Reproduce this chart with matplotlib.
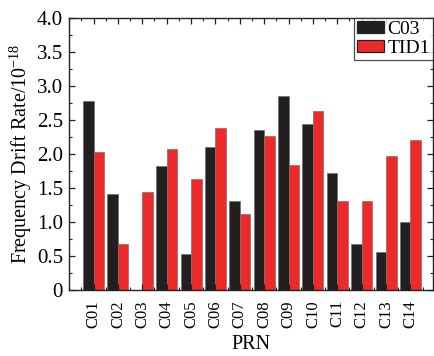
import numpy as np
import matplotlib
matplotlib.use("Agg")
import matplotlib.pyplot as plt
from matplotlib.ticker import MultipleLocator

# data
prn = ["C01", "C02", "C03", "C04", "C05", "C06", "C07",
       "C08", "C09", "C10", "C11", "C12", "C13", "C14"]
c03 = [2.78, 1.42, 0.0, 1.83, 0.53, 2.10, 1.32,
       2.36, 2.85, 2.44, 1.72, 0.68, 0.57, 1.00]
tid1 = [2.03, 0.68, 1.44, 2.08, 1.63, 2.38, 1.12,
        2.26, 1.84, 2.63, 1.31, 1.32, 1.98, 2.21]

plt.rcParams['font.family'] = ['Liberation Serif', 'DejaVu Serif']
plt.rcParams['mathtext.fontset'] = 'custom'
plt.rcParams['mathtext.rm'] = 'Liberation Serif'
plt.rcParams['mathtext.it'] = 'Liberation Serif:italic'

fig = plt.figure(figsize=(4.35, 3.56), dpi=100)
ax = fig.add_axes([0.159, 0.184, 0.836, 0.766])

x = np.arange(1, len(prn) + 1)
w = 0.43
ax.bar(x - w / 2, c03, width=w, color="#231f20", edgecolor="#6e6e6e",
       linewidth=0.5, label="C03")
ax.bar(x + w / 2, tid1, width=w, color="#ec2a2a", edgecolor="#8a6a6a",
       linewidth=0.5, label="TID1")

ax.set_xlim(0, 14.92)
ax.set_ylim(0, 4.0)
ax.set_xticks(x)
ax.set_xticklabels(prn, rotation=90, fontsize=12)
ax.xaxis.set_minor_locator(MultipleLocator(0.5))
ax.yaxis.set_minor_locator(MultipleLocator(0.25))
ylabs = ["0"] + ["%.1f" % v for v in np.arange(0.5, 4.01, 0.5)]
ax.set_yticks(np.arange(0, 4.01, 0.5))
ax.set_yticklabels(ylabs, fontsize=15)

ax.tick_params(which='both', direction='in', top=True, right=True, color="#222222")
ax.tick_params(which='major', length=4, width=0.9)
ax.tick_params(which='minor', length=2.5, width=0.8)
ax.tick_params(axis='x', pad=7)
ax.tick_params(axis='y', pad=4.5)
for s in ax.spines.values():
    s.set_linewidth(1.0)
    s.set_color("#222222")

ax.set_ylabel("Frequency Drift Rate/10$^{-18}$", fontsize=14.5, labelpad=2)
ax.set_xlabel("PRN", fontsize=14.5, labelpad=5)

leg = ax.legend(loc="upper right", fontsize=14, frameon=True, fancybox=False,
                borderpad=0.15, labelspacing=0.1, handlelength=1.4,
                handleheight=0.55, handletextpad=0.15, borderaxespad=0.0)
leg.get_frame().set_edgecolor("#222222")
leg.get_frame().set_linewidth(0.9)
for h in leg.legend_handles:
    h.set_edgecolor("#222222")
    h.set_linewidth(0.9)

fig.savefig("out.png", dpi=100)
